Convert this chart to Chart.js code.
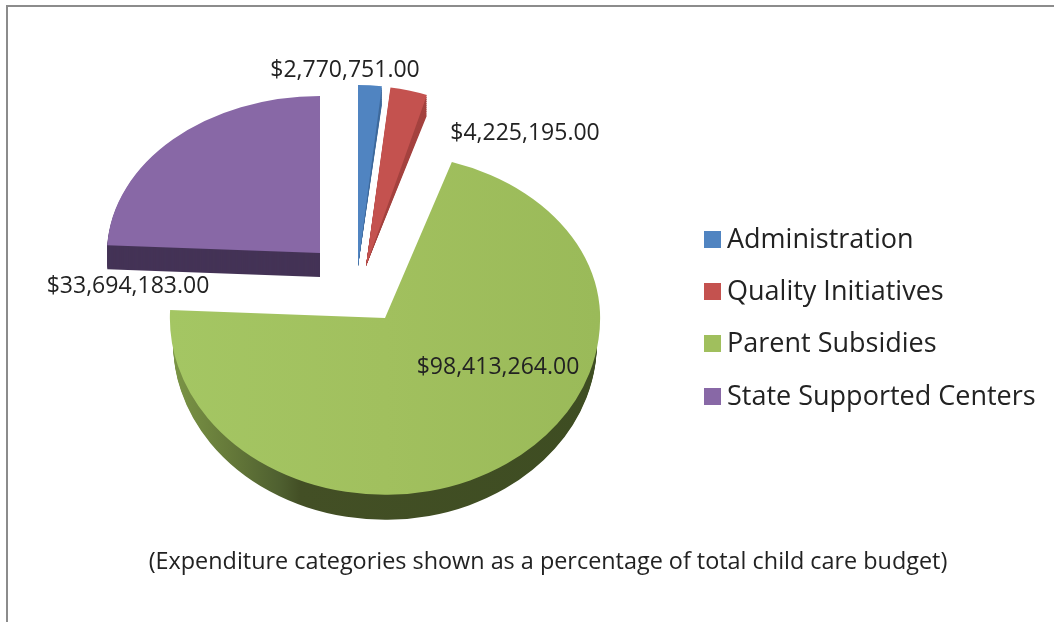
<!DOCTYPE html>
<html>
<head>
<meta charset="utf-8">
<style>
  html,body{margin:0;padding:0;background:#fff;overflow:hidden;}
  #wrap{position:relative;width:1054px;height:622px;}
  #frame{position:absolute;left:6px;top:5px;right:0;bottom:0;border-left:2px solid #8c8c8c;border-top:2px solid #8c8c8c;}
  canvas{position:absolute;left:0;top:0;}
  #legend{position:absolute;left:704px;top:212px;font:27px "Open Sans",sans-serif;color:#222;}
  #legend div{position:relative;height:52.2px;line-height:52.2px;padding-left:23px;white-space:nowrap;}
  #legend i{position:absolute;left:0;top:19px;width:17px;height:17px;}
</style>
<script src="https://cdn.jsdelivr.net/npm/chart.js@4"></script>
</head>
<body>
<div id="wrap">
  <div id="frame"></div>
  <canvas id="pie" width="1054" height="622"></canvas>
  <div id="legend"></div>
</div>
<script>
const categories = ['Administration','Quality Initiatives','Parent Subsidies','State Supported Centers'];
const amounts = [2770751,4225195,98413264,33694183];
const faceColors = ['#5084c1','#c4524f','#a0bf5d','#8868a6'];
const sideColors = ['#3f6a9c','#a4423f',null,'#443356'];
const caption = '(Expenditure categories shown as a percentage of total child care budget)';

// look of the fake 3D, per slice: explode shift, squash, extrusion depth
const pieCenter = [357,281];
const shift = [[1,-15],[9,-15],[28,37],[-37,-28]];
const squash = [[.9,.85],[.92,.845],[1.01,.83],[1,.737]];
const squashBack = [null,null,.77,null]; // far half of the parent slice looks flatter
const depth = [0,0,25,24];
const shrink = [.1,.12,0,0];
const sideNarrow = [1,1,.985,1];
const labelAt = [[-13,-198],[159,-135],[113,47],[-192,31]];

function el(id){return document.getElementById(id);}
function money(v){return '$'+v.toLocaleString('en-US',{minimumFractionDigits:2});}

// legend
categories.forEach((c,i)=>{
  const row=document.createElement('div');
  const box=document.createElement('i');
  box.style.background=faceColors[i];
  row.appendChild(box);
  row.appendChild(document.createTextNode(c));
  el('legend').appendChild(row);
});

function place(ctx,arc,i,extra,sx,sy){
  ctx.translate(pieCenter[0]+shift[i][0],pieCenter[1]+shift[i][1]+extra);
  ctx.scale(sx,sy);
  ctx.translate(-arc.x,-arc.y);
}
function recolor(arc,color){
  const copy=Object.create(arc);
  copy.options=Object.assign({},arc.options,{backgroundColor:color});
  return copy;
}
function stops(ctx,arc,list){
  const g=ctx.createLinearGradient(arc.x-arc.outerRadius,0,arc.x+arc.outerRadius,0);
  list.forEach(s=>g.addColorStop(s[0],s[1]));
  return g;
}
function clipBelow(ctx,chart,cut){
  ctx.beginPath(); ctx.rect(0,cut,chart.width,chart.height-cut); ctx.clip();
}

const pie3d={
  id:'pie3d',
  beforeDatasetDraw(chart){
    const ctx=chart.ctx, arcs=chart.getDatasetMeta(0).data;
    // sides first, then the faces on top
    arcs.forEach((arc,i)=>{
      const side=sideColors[i]||stops(ctx,arc,[[0,'#7b9546'],[.13,'#667a3a'],[.25,'#4f6030'],[.3,'#434f25'],[1,'#3e4d22']]);
      const dark=recolor(arc,side);
      const sx=squash[i][0]*sideNarrow[i], sy=squash[i][1];
      const cut=pieCenter[1]+shift[i][1];
      for(let k=10;k>0&&shrink[i];k--){
        ctx.save(); place(ctx,arc,i,0,sx,sy*(1-shrink[i]*k/10)); dark.draw(ctx); ctx.restore();
      }
      for(let d=depth[i];d>0;d--){
        ctx.save();
        if(squashBack[i]) clipBelow(ctx,chart,cut);
        place(ctx,arc,i,d,sx,sy); dark.draw(ctx);
        ctx.restore();
      }
    });
    arcs.forEach((arc,i)=>{
      const face=i===2?recolor(arc,stops(ctx,arc,[[0,'#a4c663'],[.5,'#a1c05e'],[1,'#9aba59']])):arc;
      const sx=squash[i][0], sy=squash[i][1];
      if(squashBack[i]){
        const cut=pieCenter[1]+shift[i][1];
        ctx.save();
        ctx.beginPath(); ctx.rect(0,0,chart.width,cut); ctx.clip();
        place(ctx,arc,i,0,sx,squashBack[i]); face.draw(ctx);
        ctx.restore();
        ctx.save();
        clipBelow(ctx,chart,cut);
        place(ctx,arc,i,0,sx,sy); face.draw(ctx);
        ctx.restore();
      }else{
        ctx.save(); place(ctx,arc,i,0,sx,sy); face.draw(ctx); ctx.restore();
      }
    });
    return false;
  },
  afterDraw(chart){
    const ctx=chart.ctx;
    ctx.save();
    ctx.font='23px "Open Sans", sans-serif';
    ctx.fillStyle='#222';
    ctx.textAlign='center';
    ctx.textBaseline='middle';
    amounts.forEach((v,i)=>{
      ctx.fillText(money(v),pieCenter[0]+shift[i][0]+labelAt[i][0],pieCenter[1]+shift[i][1]+labelAt[i][1]+2);
    });
    ctx.restore();
  }
};

new Chart(el('pie').getContext('2d'),{
  type:'pie',
  data:{labels:categories,datasets:[{data:amounts,backgroundColor:faceColors,borderWidth:0}]},
  options:{
    responsive:false,
    animation:false,
    radius:213,
    layout:{padding:{left:42,right:0,top:32,bottom:46}},
    plugins:{
      legend:{display:false},
      tooltip:{enabled:false},
      title:{display:true,text:caption,position:'bottom',color:'#222',padding:{top:14,bottom:0},
        font:{family:'"Open Sans", sans-serif',size:23.4,weight:'normal'}}
    }
  },
  plugins:[pie3d]
});
</script>
</body>
</html>
